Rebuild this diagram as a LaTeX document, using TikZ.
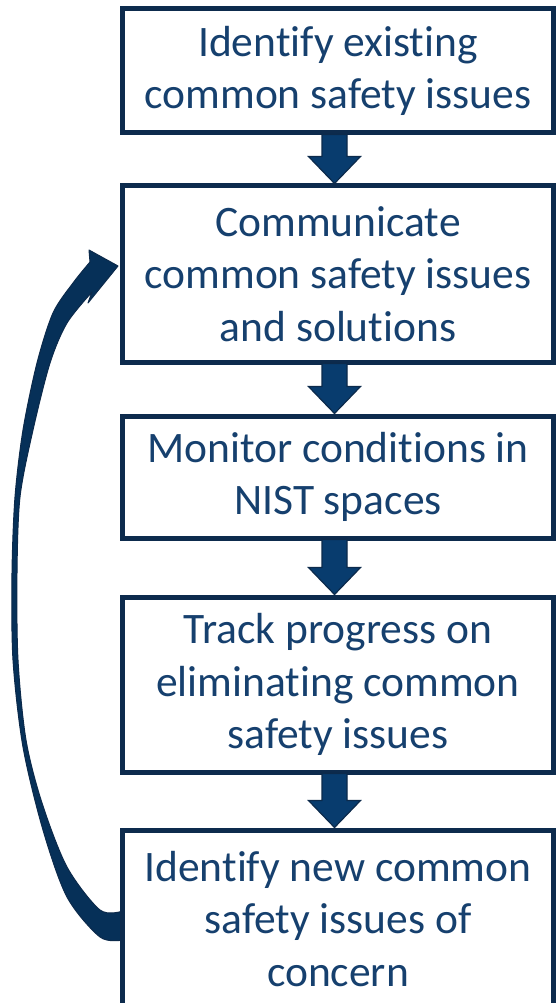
\documentclass[tikz,border=0pt]{standalone}
\usepackage{fontspec}
\setmainfont{Carlito}[Ligatures=NoCommon]
\usetikzlibrary{calc}
\definecolor{boxline}{RGB}{13,43,77}
\definecolor{txt}{RGB}{22,64,110}
\definecolor{arrfill}{RGB}{8,60,110}
\definecolor{arrline}{RGB}{12,42,75}
\definecolor{curvefill}{RGB}{6,48,88}
\tikzset{
  stepbox/.style={draw=boxline, line width=5pt, fill=white, minimum width=431pt,
    inner sep=0pt, align=center, text=txt, font=\fontsize{43.5}{52.5}\selectfont},
  blockarrow/.style={fill=arrfill, draw=arrline, line width=1.2pt, line join=miter},
  curvearrow/.style={fill=curvefill, draw=arrline, line width=1pt, line join=round}
}
\newcommand\blockarr[2]{%
  \path[blockarrow] let \p1=(#1.south), \p2=(#2.north) in
    (\x1-16pt,\y1+1pt) -- (\x1-16pt,\y2+27pt) -- (\x1-29.5pt,\y2+27pt) --
    (\x1-3.5pt,\y2) -- (\x1+22.5pt,\y2+27pt) -- (\x1+9pt,\y2+27pt) --
    (\x1+9pt,\y1+1pt) -- cycle;}
\begin{document}
\begin{tikzpicture}[x=1pt,y=-1pt]
\useasboundingbox[fill=white] (0,0) rectangle (556,1003);
% curved feedback arrow
\path[curvearrow]
  plot[smooth] coordinates {(123,940) (100,937) (67,897) (43,830) (23,747) (13,660) (12,573) (15,497) (23,430) (37,363) (53,313) (73,283) (90,262)}
  -- (89,250) -- (118,266) -- (88,303) --
  plot[smooth] coordinates {(92,292) (67,323) (50,363) (33,430) (20,497) (17,573) (18,660) (26,740) (42,803) (67,867) (100,910) (123,911)}
  -- cycle;
% boxes
\node[stepbox, minimum height=124pt] (b1) at (338,71) {Identify existing\\common safety issues};
\node[stepbox, minimum height=176pt] (b2) at (338,274) {Communicate\\common safety issues\\and solutions};
\node[stepbox, minimum height=122pt] (b3) at (338,477) {Monitor conditions in\\NIST spaces};
\node[stepbox, minimum height=175pt] (b4) at (338,684.5) {Track progress on\\eliminating common\\safety issues};
\node[stepbox, minimum height=178pt] (b5) at (338,919) {Identify new common\\safety issues of\\concern};
% block arrows
\blockarr{b1}{b2}
\blockarr{b2}{b3}
\blockarr{b3}{b4}
\blockarr{b4}{b5}
\end{tikzpicture}
\end{document}
